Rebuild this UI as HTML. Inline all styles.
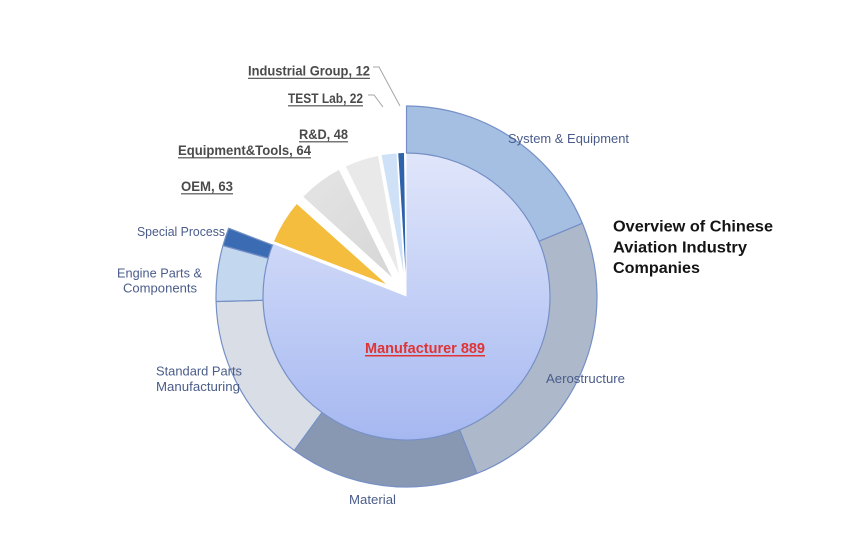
<!DOCTYPE html>
<html>
<head>
<meta charset="utf-8">
<style>
html,body{margin:0;padding:0;background:#fff;}
svg{display:block;}
</style>
</head>
<body>
<svg width="850" height="540" viewBox="0 0 850 540" xmlns="http://www.w3.org/2000/svg">
<defs>
<linearGradient id="mg" gradientUnits="userSpaceOnUse" x1="0" y1="153" x2="0" y2="440">
<stop offset="0" stop-color="#e0e6fa"/>
<stop offset="1" stop-color="#a6b8f1"/>
</linearGradient>
<linearGradient id="gg" gradientUnits="userSpaceOnUse" x1="300" y1="180" x2="390" y2="280">
<stop offset="0" stop-color="#e4e4e4"/>
<stop offset="1" stop-color="#d6d6d6"/>
</linearGradient>
</defs>
<rect width="850" height="540" fill="#fff"/>

<!-- Manufacturer inner slice -->
<path d="M 406.5 296.5 L 406.5 153 A 143.5 143.5 0 1 1 272.99 243.91 Z" fill="url(#mg)"/>

<!-- Outer ring -->
<g stroke="#7690c6" stroke-width="1.2" stroke-linejoin="round">
<path d="M 406.5 106 A 190.5 190.5 0 0 1 582.37 223.29 L 538.98 241.35 A 143.5 143.5 0 0 0 406.5 153 Z" fill="#a4bfe2"/>
<path d="M 582.37 223.29 A 190.5 190.5 0 0 1 476.93 473.5 L 459.55 429.83 A 143.5 143.5 0 0 0 538.98 241.35 Z" fill="#adb9ca"/>
<path d="M 476.93 473.5 A 190.5 190.5 0 0 1 294.26 450.42 L 321.95 412.45 A 143.5 143.5 0 0 0 459.55 429.83 Z" fill="#8898b2"/>
<path d="M 294.26 450.42 A 190.5 190.5 0 0 1 216.06 301.49 L 263.05 300.26 A 143.5 143.5 0 0 0 321.95 412.45 Z" fill="#d8dde6"/>
<path d="M 216.06 301.49 A 190.5 190.5 0 0 1 222.93 245.6 L 268.22 258.16 A 143.5 143.5 0 0 0 263.05 300.26 Z" fill="#c3d7ee"/>
<path d="M 222.93 245.6 A 190.5 190.5 0 0 1 228.65 228.23 L 272.53 245.07 A 143.5 143.5 0 0 0 268.22 258.16 Z" fill="#3b6cb3"/>
</g>

<!-- Small exploded slices -->
<path d="M 386.0 284.0 L 274.02 241.35 A 143.5 143.5 0 0 1 296.74 204.06 Z" fill="#f4bd3d"/>
<path d="M 392.0 277.4 L 303.28 196.81 A 143.5 143.5 0 0 1 338.91 169.92 Z" fill="url(#gg)"/>
<path d="M 399.0 273.7 L 345.86 166.45 A 143.5 143.5 0 0 1 378.13 155.83 Z" fill="#e9e9e9"/>
<path d="M 403.6 272.7 L 381.58 155.18 A 143.5 143.5 0 0 1 396.49 153.35 Z" fill="#cfe1f6"/>
<path d="M 405.6 272.5 L 398.24 153.24 A 143.5 143.5 0 0 1 404.0 153.02 Z" fill="#2e62ab"/>

<!-- Leader lines -->
<polyline points="373,67 379,67 400,106" fill="none" stroke="#a6a6a6" stroke-width="1"/>
<polyline points="368,95 374,95 383,107" fill="none" stroke="#a6a6a6" stroke-width="1"/>

<!-- Outer labels -->
<g font-family="Liberation Sans, Arial, sans-serif" font-size="13" fill="#4a5c8a">
<text x="508" y="143" textLength="121" lengthAdjust="spacingAndGlyphs">System &amp; Equipment</text>
<text x="546" y="383" textLength="79" lengthAdjust="spacingAndGlyphs">Aerostructure</text>
<text x="349" y="504" textLength="47" lengthAdjust="spacingAndGlyphs">Material</text>
<text x="156" y="375.5" textLength="86" lengthAdjust="spacingAndGlyphs">Standard Parts</text>
<text x="156" y="391" textLength="84" lengthAdjust="spacingAndGlyphs">Manufacturing</text>
<text x="117" y="277.5" textLength="85" lengthAdjust="spacingAndGlyphs">Engine Parts &amp;</text>
<text x="123" y="292.5" textLength="74" lengthAdjust="spacingAndGlyphs">Components</text>
<text x="137" y="236" textLength="88" lengthAdjust="spacingAndGlyphs">Special Process</text>
</g>

<!-- Bold gray labels -->
<g font-family="Liberation Sans, Arial, sans-serif" font-size="13.5" font-weight="bold" fill="#4a4a4a">
<text x="248" y="75.5" textLength="122" lengthAdjust="spacingAndGlyphs">Industrial Group, 12</text>
<text x="288" y="103" textLength="75" lengthAdjust="spacingAndGlyphs">TEST Lab, 22</text>
<text x="299" y="139" textLength="49" lengthAdjust="spacingAndGlyphs">R&amp;D, 48</text>
<text x="178" y="155" textLength="133" lengthAdjust="spacingAndGlyphs">Equipment&amp;Tools, 64</text>
<text x="181" y="191" textLength="52" lengthAdjust="spacingAndGlyphs">OEM, 63</text>
</g>
<g stroke="#4a4a4a" stroke-width="1.2">
<line x1="248" y1="78.3" x2="370" y2="78.3"/>
<line x1="288" y1="105.8" x2="363" y2="105.8"/>
<line x1="299" y1="141.8" x2="348" y2="141.8"/>
<line x1="178" y1="157.8" x2="311" y2="157.8"/>
<line x1="181" y1="193.8" x2="233" y2="193.8"/>
</g>

<!-- Center label -->
<text x="365" y="353" font-family="Liberation Sans, Arial, sans-serif" font-size="14.5" font-weight="bold" fill="#e03434" textLength="120" lengthAdjust="spacingAndGlyphs">Manufacturer 889</text>
<line x1="365" y1="355.8" x2="485" y2="355.8" stroke="#e03434" stroke-width="1.5"/>

<!-- Title -->
<g font-family="Liberation Sans, Arial, sans-serif" font-size="16" font-weight="bold" fill="#141414">
<text x="613" y="231.5" textLength="160" lengthAdjust="spacingAndGlyphs">Overview of Chinese</text>
<text x="613" y="252.5" textLength="134" lengthAdjust="spacingAndGlyphs">Aviation Industry</text>
<text x="613" y="273" textLength="87" lengthAdjust="spacingAndGlyphs">Companies</text>
</g>
</svg>
</body>
</html>
